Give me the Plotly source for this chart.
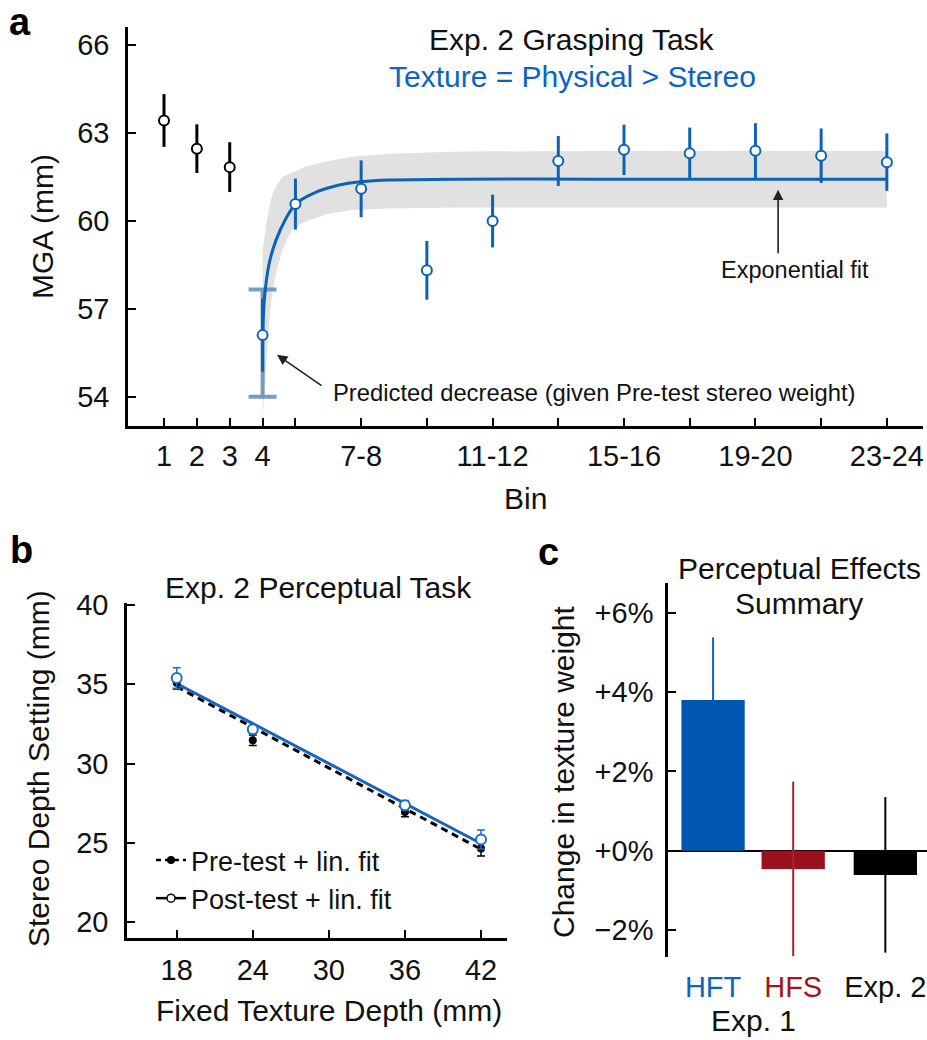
import plotly.graph_objects as go

# ---------------- Panel a data ----------------
bin_pos = [1, 2, 3, 4, 5, 7, 9, 11, 13, 15, 17, 19, 21, 23]
mga_mean = [63.42, 62.46, 61.83, 56.10, 60.57, 61.09, 58.31, 59.99, 62.04, 62.42, 62.30, 62.39, 62.22, 62.00]
mga_err = [0.90, 0.83, 0.85, 1.25, 0.87, 0.97, 1.00, 0.90, 0.85, 0.86, 0.88, 0.94, 0.93, 0.98]
n_pretest_bins = 3
bin_tick_text = ["1", "2", "3", "4", "", "7-8", "", "11-12", "", "15-16", "", "19-20", "", "23-24"]

pred_bin = [4]
pred_mean = [55.83]
pred_err = [1.83]

fit_x = [4.0, 4.06, 4.2, 4.41, 4.71, 5.0, 5.53, 6.33, 7.0, 7.85, 10.0, 14.0, 23.0]
fit_y = [56.1, 57.4, 58.54, 59.34, 60.08, 60.57, 60.93, 61.22, 61.33, 61.39, 61.42, 61.42, 61.42]

band_up_x = [4.0, 4.06, 4.12, 4.2, 4.31, 4.45, 4.61, 4.78, 4.97, 5.3, 5.82, 6.3, 6.84, 7.85, 10.0, 14.0, 23.0]
band_up_y = [59.0, 59.5, 59.93, 60.45, 60.93, 61.25, 61.5, 61.6, 61.67, 61.85, 62.0, 62.1, 62.2, 62.29, 62.36, 62.38, 62.38]
band_lo_x = [4.0, 4.08, 4.16, 4.23, 4.31, 4.45, 4.61, 4.75, 4.91, 5.15, 5.42, 6.03, 6.74, 7.85, 10.0, 14.0, 23.0]
band_lo_y = [53.3, 54.5, 55.93, 56.9, 57.64, 58.4, 59.0, 59.38, 59.69, 59.88, 60.03, 60.25, 60.37, 60.42, 60.45, 60.45, 60.45]

# ---------------- Panel b data ----------------
texture_depth = [18, 24, 36, 42]
pre_mean = [35.1, 31.47, 26.95, 24.64]
pre_err = [0.4, 0.33, 0.3, 0.46]
post_mean = [35.4, 32.16, 27.37, 25.21]
post_err = [0.65, 0.25, 0.3, 0.6]
fit_depth = [18, 42]
pre_fit = [34.85, 24.6]
post_fit = [35.05, 24.96]

# ---------------- Panel c data ----------------
groups = ["HFT", "HFS", "Exp. 2"]
weight_change = [3.8, -0.46, -0.61]
weight_err = [1.58, 2.2, 1.96]

# ---------------- styles ----------------
W, H = 927, 1040
BLUE = "#0b62b6"
BAR_COLORS = ["#0057b0", "#9b111e", "#000000"]
ERR_COLORS = ["#1262bd", "#a8232d", "#000000"]
LABEL_COLORS = ["#0a64c0", "#a3141f", "#111111"]
BAR_POS = [1.0, 2.0, 3.15]
FONT = "Liberation Sans, Arial, Helvetica, sans-serif"
TXT = 30
TICK = 29


def px(x):
    return x / W


def py(y):
    return 1 - y / H


fig = go.Figure()

# band
fig.add_trace(go.Scatter(
    x=band_up_x + band_lo_x[::-1], y=band_up_y + band_lo_y[::-1],
    fill="toself", fillcolor="#e1e1e1", line=dict(width=0),
    mode="lines", hoverinfo="skip", showlegend=False, xaxis="x", yaxis="y"))
# predicted error bar
fig.add_trace(go.Scatter(
    x=pred_bin, y=pred_mean, mode="markers",
    marker=dict(size=1, color="rgba(0,0,0,0)"),
    error_y=dict(type="data", array=pred_err, color="rgba(88,132,178,0.8)", thickness=4, width=14),
    showlegend=False, xaxis="x", yaxis="y"))
# fit curve
fig.add_trace(go.Scatter(
    x=fit_x, y=fit_y, mode="lines", line=dict(color=BLUE, width=3, shape="spline", smoothing=0.8),
    showlegend=False, xaxis="x", yaxis="y"))
# pre-test bins
k = n_pretest_bins
fig.add_trace(go.Scatter(
    x=bin_pos[:k], y=mga_mean[:k], mode="markers",
    marker=dict(symbol="circle", size=10, color="white", line=dict(color="black", width=2)),
    error_y=dict(type="data", array=mga_err[:k], color="black", thickness=3, width=0),
    showlegend=False, xaxis="x", yaxis="y"))
# adaptation bins
fig.add_trace(go.Scatter(
    x=bin_pos[k:], y=mga_mean[k:], mode="markers",
    marker=dict(symbol="circle", size=10, color="white", line=dict(color=BLUE, width=2)),
    error_y=dict(type="data", array=mga_err[k:], color=BLUE, thickness=3, width=0),
    showlegend=False, xaxis="x", yaxis="y"))

# ---------------- panel b ----------------
fig.add_trace(go.Scatter(
    x=fit_depth, y=pre_fit, mode="lines", line=dict(color="black", width=3, dash="7px,5px"),
    showlegend=False, xaxis="x2", yaxis="y2"))
fig.add_trace(go.Scatter(
    x=fit_depth, y=post_fit, mode="lines", line=dict(color="#1565c0", width=3),
    showlegend=False, xaxis="x2", yaxis="y2"))
fig.add_trace(go.Scatter(
    x=texture_depth, y=pre_mean, mode="markers",
    marker=dict(size=8, color="black"),
    error_y=dict(type="data", array=pre_err, color="black", thickness=1.5, width=4),
    showlegend=False, xaxis="x2", yaxis="y2"))
fig.add_trace(go.Scatter(
    x=texture_depth, y=post_mean, mode="markers",
    marker=dict(size=10, color="white", line=dict(color="#1a6fc6", width=2)),
    error_y=dict(type="data", array=post_err, color="#1a6fc6", thickness=1.5, width=4),
    showlegend=False, xaxis="x2", yaxis="y2"))
# legend-only entries
fig.add_trace(go.Scatter(
    x=[None], y=[None], mode="lines+markers", name="Pre-test + lin. fit",
    line=dict(color="black", width=2.5, dash="5px,4px"), marker=dict(size=8, color="black"),
    xaxis="x2", yaxis="y2"))
fig.add_trace(go.Scatter(
    x=[None], y=[None], mode="lines+markers", name="Post-test + lin. fit",
    line=dict(color="black", width=2.5), marker=dict(size=8, color="white", line=dict(color="black", width=1.5)),
    xaxis="x2", yaxis="y2"))

# ---------------- panel c ----------------
for i, g in enumerate(groups):
    v, e = weight_change[i], weight_err[i]
    fig.add_trace(go.Bar(
        x=[BAR_POS[i]], y=[v], width=0.79,
        marker=dict(color=BAR_COLORS[i], line=dict(width=0)),
        error_y=dict(type="data", symmetric=False, array=[e], arrayminus=[0 if v > 0 else e],
                     color=ERR_COLORS[i], thickness=2, width=0),
        showlegend=False, xaxis="x3", yaxis="y3"))

axis_common = dict(showline=True, linecolor="black", linewidth=2.5, ticks="inside",
                   ticklen=8, tickwidth=2, tickcolor="black", showgrid=False, zeroline=False,
                   automargin=False, tickfont=dict(family=FONT, size=TICK, color="#111"))

fig.update_layout(
    width=W, height=H, autosize=False,
    margin=dict(l=0, r=0, t=0, b=0, pad=0),
    paper_bgcolor="white", plot_bgcolor="white",
    font=dict(family=FONT, size=TXT, color="#111"),
    barmode="overlay",
    xaxis=dict(domain=[px(128), px(923)], range=[-0.096, 24.1], anchor="y",
               tickmode="array", tickvals=bin_pos, ticktext=bin_tick_text,
               ticklabelstandoff=2, **axis_common),
    yaxis=dict(domain=[py(426), py(27)], range=[53.0, 66.61], anchor="x",
               tickmode="array", tickvals=[54, 57, 60, 63, 66], ticklabelstandoff=10, **axis_common),
    xaxis2=dict(domain=[px(127), px(507)], range=[14.08, 44.05], anchor="y2",
                tickmode="array", tickvals=[18, 24, 30, 36, 42], ticklabelstandoff=4, **axis_common),
    yaxis2=dict(domain=[py(938), py(603)], range=[19.0, 40.13], anchor="x2",
                tickmode="array", tickvals=[20, 25, 30, 35, 40], ticklabelstandoff=10, **axis_common),
    xaxis3=dict(domain=[px(668), 1.0], range=[0.4375, 3.67], anchor="y3",
                showline=False, ticks="", showgrid=False, zeroline=False, automargin=False,
                tickmode="array", tickvals=BAR_POS,
                ticktext=['<span style="color:%s">%s</span>' % (c, g) for c, g in zip(LABEL_COLORS, groups)],
                tickfont=dict(family=FONT, size=TICK), ticklabelstandoff=10),
    yaxis3=dict(domain=[py(957), py(583)], range=[-2.68, 6.75], anchor="x3",
                tickmode="array", tickvals=[-2, 0, 2, 4, 6],
                ticktext=["\u22122%", "+0%", "+2%", "+4%", "+6%"], ticklabelstandoff=6,
                **{**axis_common, "zeroline": True}, zerolinecolor="black", zerolinewidth=2),
    legend=dict(x=px(151), y=py(836), xanchor="left", yanchor="top",
                font=dict(family=FONT, size=27, color="#111"), bgcolor="rgba(0,0,0,0)",
                tracegroupgap=0, itemwidth=30),
)

ann = []


def text(x, y, s, size=TXT, color="#111", bold=False, angle=0, xanchor="center"):
    ann.append(dict(x=px(x), y=py(y), xref="paper", yref="paper", text=("<b>%s</b>" % s) if bold else s,
                    showarrow=False, xanchor=xanchor, yanchor="middle", textangle=angle,
                    font=dict(family=FONT, size=size, color=color)))


text(20, 22, "a", size=38, color="black", bold=True)
text(21, 550, "b", size=38, color="black", bold=True)
text(548, 552, "c", size=38, color="black", bold=True)
text(572, 40, "Exp. 2 Grasping Task")
text(572, 77, "Texture = Physical > Stereo", color="#0a64c0")
text(42, 227, "MGA (mm)", angle=-90)
text(525, 498, "Bin")
text(795, 270, "Exponential fit", size=23.5)
text(331, 392, "Predicted decrease (given Pre-test stereo weight)", size=23.8, xanchor="left")
text(318, 587, "Exp. 2 Perceptual Task")
text(38, 769, "Stereo Depth Setting (mm)", angle=-90)
text(329, 1010, "Fixed Texture Depth (mm)")
text(799, 568, "Perceptual Effects")
text(799, 603, "Summary")
text(563, 772, "Change in texture weight", angle=-90)
text(753, 1020, "Exp. 1")

# arrows (data coordinates of panel a)
ann.append(dict(x=19.69, y=61.06, ax=19.69, ay=58.84, xref="x", yref="y", axref="x", ayref="y",
                showarrow=True, arrowhead=2, arrowsize=1.3, arrowwidth=1.6, arrowcolor="#222", text=""))
ann.append(dict(x=4.44, y=55.43, ax=5.84, ay=54.34, xref="x", yref="y", axref="x", ayref="y",
                showarrow=True, arrowhead=2, arrowsize=1.3, arrowwidth=1.6, arrowcolor="#222", text=""))

fig.update_layout(annotations=ann)
fig.write_html("out.html", config={"displayModeBar": False},
               post_script="document.body.style.margin='0';document.body.style.overflow='hidden';")
